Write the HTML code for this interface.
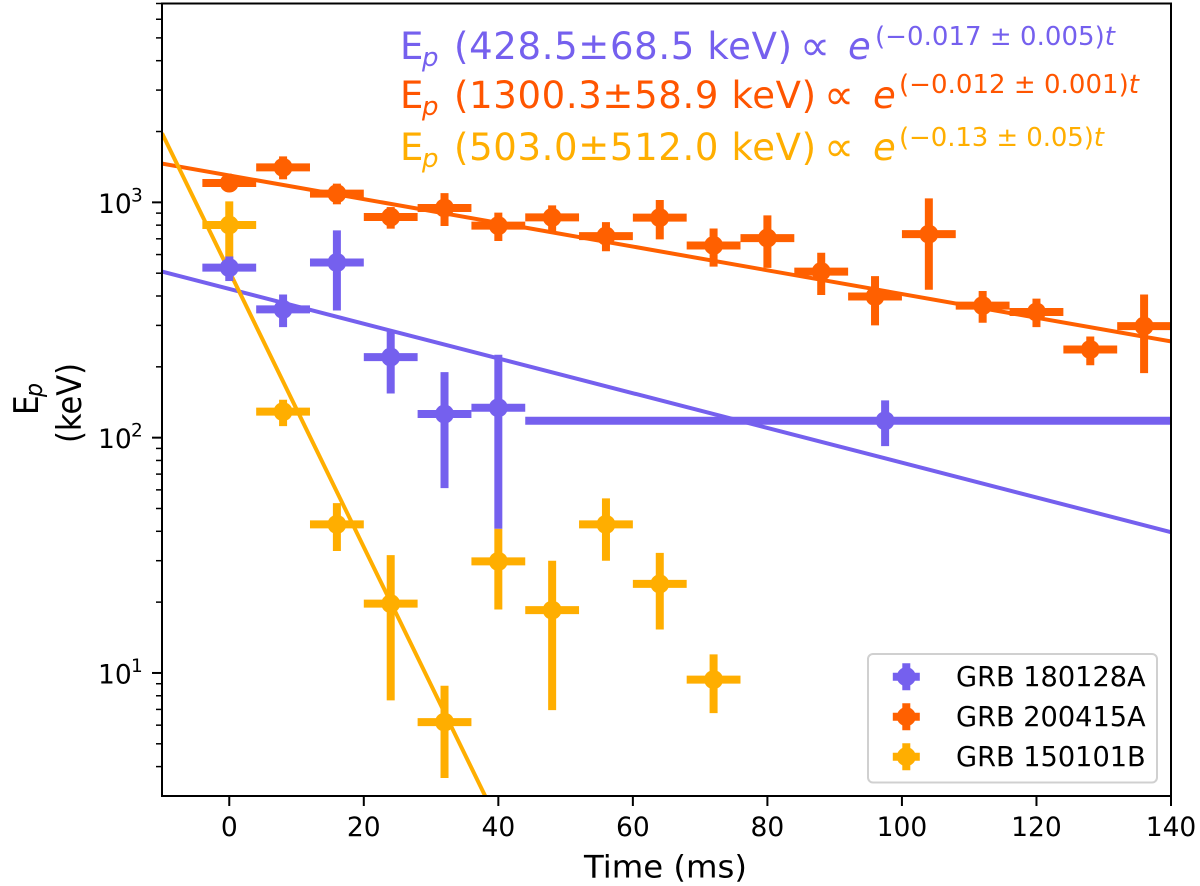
<!DOCTYPE html>
<html lang="en">
<head>
<meta charset="utf-8">
<title>Ep evolution of GRBs</title>
<style>
  html, body { margin: 0; padding: 0; background: #fff; width: 1200px; height: 886px; overflow: hidden; }
  svg { display: block; overflow: hidden; font-family: "DejaVu Sans", "Liberation Sans", sans-serif; }
  text { fill: #000; }
</style>
</head>
<body>
<svg id="chart" xmlns="http://www.w3.org/2000/svg" width="1200" height="886" viewBox="0 0 1200 886">
  <defs>
    <clipPath id="plot-clip"><rect x="162" y="3.5" width="1009" height="792.5"></rect></clipPath>
  </defs>
  <rect x="0" y="0" width="1200" height="886" fill="#fff"></rect>
  <g id="fit-lines" clip-path="url(#plot-clip)"></g>
  <g id="points" clip-path="url(#plot-clip)"></g>
  <g id="axes"></g>

  <g>
    <text x="400" y="59" font-size="37" style="fill:#7560ee">E</text>
    <text x="422" y="66" font-size="26" font-style="italic" style="fill:#7560ee">p</text>
    <text x="454" y="59" font-size="37" textLength="338" style="fill:#7560ee">(428.5±68.5 keV)</text>
    <text x="800" y="60" font-size="42" style="fill:#7560ee">∝</text>
    <text x="848" y="59" font-size="37" font-style="italic" style="fill:#7560ee">e</text>
    <text x="875" y="45" font-size="26" textLength="240" style="fill:#7560ee">(−0.017 ± 0.005)<tspan font-style="italic">t</tspan></text>
  </g>
  <g>
    <text x="400" y="108" font-size="37" style="fill:#ff5500">E</text>
    <text x="422" y="115" font-size="26" font-style="italic" style="fill:#ff5500">p</text>
    <text x="454" y="108" font-size="37" textLength="362" style="fill:#ff5500">(1300.3±58.9 keV)</text>
    <text x="824" y="109" font-size="42" style="fill:#ff5500">∝</text>
    <text x="873" y="108" font-size="37" font-style="italic" style="fill:#ff5500">e</text>
    <text x="899" y="93" font-size="26" textLength="240" style="fill:#ff5500">(−0.012 ± 0.001)<tspan font-style="italic">t</tspan></text>
  </g>
  <g>
    <text x="400" y="160" font-size="37" style="fill:#ffae00">E</text>
    <text x="422" y="167" font-size="26" font-style="italic" style="fill:#ffae00">p</text>
    <text x="454" y="160" font-size="37" textLength="362" style="fill:#ffae00">(503.0±512.0 keV)</text>
    <text x="824" y="161" font-size="42" style="fill:#ffae00">∝</text>
    <text x="873" y="160" font-size="37" font-style="italic" style="fill:#ffae00">e</text>
    <text x="899" y="146" font-size="26" textLength="205" style="fill:#ffae00">(−0.13 ± 0.05)<tspan font-style="italic">t</tspan></text>
  </g>

  <text x="584" y="877.5" font-size="31" textLength="163" lengthAdjust="spacingAndGlyphs">Time (ms)</text>
  <g>
    <text transform="translate(38,415) rotate(-90) scale(1,1.1)" font-size="31">E</text>
    <text transform="translate(42,397) rotate(-90) scale(1,1.1)" font-size="22" font-style="italic">p</text>
    <text transform="translate(81,443) rotate(-90) scale(1,1.1)" font-size="30.5">(keV)</text>
  </g>

  <g>
    <rect x="868" y="654" width="289" height="128.5" rx="5" fill="#fff" fill-opacity="0.8" stroke="#d0d0d0" stroke-width="2"></rect>
    <g id="legend-marks"></g>
    <text x="956" y="686" font-size="27.2">GRB 180128A</text>
    <text x="956" y="726" font-size="27.2">GRB 200415A</text>
    <text x="956" y="766" font-size="27.2">GRB 150101B</text>
  </g>
</svg>
<script>
// Data (t in ms, Ep in keV)
const blueTimes = [0, 8, 16, 24, 32, 40, 97.5];
const blueTimeErr = [4, 4, 4, 4, 4, 4, 53.5];
const blueValues = [528, 351, 555, 220, 126, 134, 118];
const blueLow = [463, 295, 347, 154, 61, 41, 92];
const blueHigh = [589, 406, 760, 286, 190, 225, 144];

const orangeTimes = [0, 8, 16, 24, 32, 40, 48, 56, 64, 72, 80, 88, 96, 104, 112, 120, 128, 136];
const orangeTimeErr = [4, 4, 4, 4, 4, 4, 4, 4, 4, 4, 4, 4, 4, 4, 4, 4, 4, 4];
const orangeValues = [1208, 1408, 1089, 866, 946, 796, 863, 719, 861, 656, 705, 508, 398, 733, 364, 342, 237, 298];
const orangeLow = [1130, 1253, 981, 773, 793, 685, 746, 620, 696, 533, 527, 404, 300, 425, 308, 295, 203, 188];
const orangeHigh = [1290, 1568, 1201, 955, 1095, 904, 971, 824, 1023, 774, 880, 611, 486, 1040, 420, 390, 269, 406];

const yellowTimes = [0, 8, 16, 24, 32, 40, 48, 56, 64, 72];
const yellowTimeErr = [4, 4, 4, 4, 4, 4, 4, 4, 4, 4];
const yellowValues = [801, 129, 42.8, 19.7, 6.18, 29.8, 18.5, 42.8, 23.9, 9.37];
const yellowLow = [550, 112, 33, 7.65, 3.58, 18.6, 6.95, 30, 15.3, 6.75];
const yellowHigh = [1010, 145, 52.7, 31.7, 8.82, 41, 30, 55.2, 32.4, 12];

const fitAmplitudes = [428.5, 1301, 510];
const fitRates = [0.017, 0.0116, 0.135];
const fitColors = ['#7560ee', '#ff6000', '#ffae00'];
const fitNames = ['fit-line-180128a', 'fit-line-200415a', 'fit-line-150101b'];

const xTickValues = [0, 20, 40, 60, 80, 100, 120, 140];
const yMajorTickExponents = [1, 2, 3];
const yMinorTickValues = [4, 5, 6, 7, 8, 9, 20, 30, 40, 50, 60, 70, 80, 90, 200, 300, 400, 500, 600, 700, 800, 900, 2000, 3000, 4000, 5000, 6000, 7000];

const xDomain = [-10, 140];
const yDomain = [3, 7000];

const NS = 'http://www.w3.org/2000/svg';
const plotLeft = 162, plotRight = 1171, plotTop = 3.5, plotBottom = 796;

function xScale(t) {
  return plotLeft + (t - xDomain[0]) / (xDomain[1] - xDomain[0]) * (plotRight - plotLeft);
}
function yScale(v) {
  const lo = Math.log10(yDomain[0]), hi = Math.log10(yDomain[1]);
  return plotBottom - (Math.log10(v) - lo) / (hi - lo) * (plotBottom - plotTop);
}
function make(tag, attrs, parent) {
  const el = document.createElementNS(NS, tag);
  for (const k in attrs) el.setAttribute(k, attrs[k]);
  parent.appendChild(el);
  return el;
}

// Fit lines: stop each one where it leaves the axes
const fitGroup = document.getElementById('fit-lines');
fitAmplitudes.forEach(function (amp, i) {
  const fitAt = function (t) { return amp * Math.exp(-fitRates[i] * t); };
  const tEnd = Math.min(xDomain[1], Math.log(amp / yDomain[0]) / fitRates[i]);
  const line = make('line', {
    x1: xScale(xDomain[0]), y1: yScale(fitAt(xDomain[0])),
    x2: xScale(tEnd), y2: yScale(fitAt(tEnd)),
    stroke: fitColors[i], 'stroke-width': 4
  }, fitGroup);
  
  
});

// Error-bar points (yellow first, blue on top, as in the reference)
const pointGroup = document.getElementById('points');
function drawSeries(name, color, times, timeErr, values, low, high) {
  const group = make('g', { fill: color, stroke: color }, pointGroup);
  
  
  times.forEach(function (t, i) {
    const point = make('g', {}, group);
    
    
    make('line', {
      x1: xScale(Math.max(t - timeErr[i], xDomain[0])), x2: xScale(Math.min(t + timeErr[i], xDomain[1])),
      y1: yScale(values[i]), y2: yScale(values[i]), 'stroke-width': 8
    }, point);
    make('line', {
      x1: xScale(t), x2: xScale(t),
      y1: yScale(Math.max(low[i], yDomain[0])), y2: yScale(Math.min(high[i], yDomain[1])), 'stroke-width': 8
    }, point);
    make('circle', {
      cx: xScale(t), cy: yScale(values[i]), r: 9.5, stroke: 'none'
    }, point);
  });
}
drawSeries('series-150101b', '#ffae00', yellowTimes, yellowTimeErr, yellowValues, yellowLow, yellowHigh);
drawSeries('series-200415a', '#ff6000', orangeTimes, orangeTimeErr, orangeValues, orangeLow, orangeHigh);
drawSeries('series-180128a', '#7560ee', blueTimes, blueTimeErr, blueValues, blueLow, blueHigh);

// Axes
const axes = document.getElementById('axes');
const frame = make('rect', {
  x: plotLeft, y: plotTop, width: plotRight - plotLeft, height: plotBottom - plotTop,
  fill: 'none', stroke: '#000', 'stroke-width': 2
}, axes);



xTickValues.forEach(function (t) {
  const x = xScale(t);
  const tick = make('line', { x1: x, x2: x, y1: plotBottom, y2: plotBottom + 10, stroke: '#000', 'stroke-width': 2 }, axes);
  
  
  const label = make('text', { x: x, y: 836, 'font-size': 26.5, 'text-anchor': 'middle' }, axes);
  label.textContent = String(t);
  
  
});

yMajorTickExponents.forEach(function (e) {
  const y = yScale(Math.pow(10, e));
  const tick = make('line', { x1: plotLeft - 10, x2: plotLeft, y1: y, y2: y, stroke: '#000', 'stroke-width': 2 }, axes);
  
  
  const base = make('text', { x: 98, y: y + 10.5, 'font-size': 26.5 }, axes);
  base.textContent = '10';
  
  
  const sup = make('text', { x: 131, y: y - 1, 'font-size': 18.5 }, axes);
  sup.textContent = String(e);
  
  
});

yMinorTickValues.forEach(function (v) {
  const y = yScale(v);
  const tick = make('line', { x1: plotLeft - 6, x2: plotLeft, y1: y, y2: y, stroke: '#000', 'stroke-width': 1.5 }, axes);
  
  
});

// Legend markers
const legendMarks = document.getElementById('legend-marks');
const legendColors = ['#7560ee', '#ff6000', '#ffae00'];
const legendRows = [0, 1, 2];
legendRows.forEach(function (row) {
  const cx = 906.3, cy = 676.7 + row * 40;
  const g = make('g', { fill: legendColors[row], stroke: legendColors[row] }, legendMarks);
  
  
  make('line', { x1: cx - 13.5, x2: cx + 13.5, y1: cy, y2: cy, 'stroke-width': 8 }, g);
  make('line', { x1: cx, x2: cx, y1: cy - 13.5, y2: cy + 13.5, 'stroke-width': 8 }, g);
  make('circle', { cx: cx, cy: cy, r: 9.5, stroke: 'none' }, g);
});
</script>
</body>
</html>
